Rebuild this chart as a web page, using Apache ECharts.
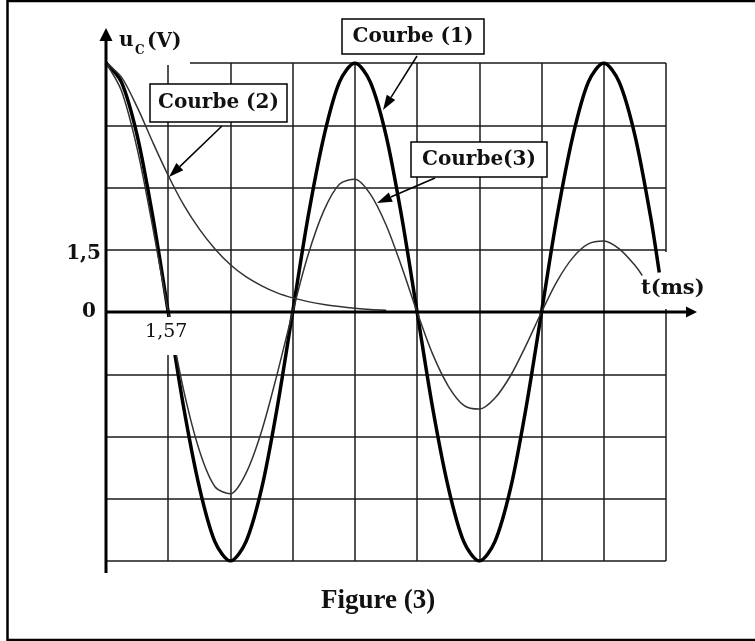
<!DOCTYPE html>
<html>
<head>
<meta charset="utf-8">
<script src="https://cdn.jsdelivr.net/npm/echarts@6/dist/echarts.min.js"></script>
<style>
html, body { margin: 0; padding: 0; background: #fff; }
#chart { width: 755px; height: 641px; }
</style>
</head>
<body>
<div id="chart"></div>
<script>
// time in ms, voltage in V
var t1 = [0, 0.39, 0.79, 1.18, 1.57, 1.96, 2.36, 2.75, 3.14, 3.53, 3.93, 4.32, 4.71, 5.10, 5.50, 5.89,
          6.28, 6.67, 7.07, 7.46, 7.85, 8.24, 8.64, 9.03, 9.42, 9.81, 10.21, 10.60, 10.99, 11.38, 11.78, 12.17,
          12.56, 12.95, 13.35, 13.74, 13.96];
var u1 = [6, 5.54, 4.24, 2.30, 0, -2.30, -4.24, -5.54, -6, -5.54, -4.24, -2.30, 0, 2.30, 4.24, 5.54,
          6, 5.54, 4.24, 2.30, 0, -2.30, -4.24, -5.54, -6, -5.54, -4.24, -2.30, 0, 2.30, 4.24, 5.54,
          6, 5.54, 4.24, 2.30, 0.95];

var t2 = [0, 0.39, 0.79, 1.18, 1.57, 1.96, 2.36, 2.75, 3.14, 3.53, 3.93, 4.32, 4.71, 5.10, 5.50, 5.89,
          6.28, 6.67, 7.07];
var u2 = [6, 5.66, 4.93, 4.09, 3.29, 2.58, 1.99, 1.52, 1.14, 0.85, 0.63, 0.46, 0.34, 0.25, 0.18, 0.13,
          0.09, 0.06, 0.04];

var t3 = [0, 0.39, 0.79, 1.18, 1.57, 1.96, 2.36, 2.75, 3.14, 3.53, 3.93, 4.32, 4.71, 5.10, 5.50, 5.89,
          6.28, 6.67, 7.07, 7.46, 7.85, 8.24, 8.64, 9.03, 9.42, 9.81, 10.21, 10.60, 10.99, 11.38, 11.78, 12.17,
          12.56, 12.95, 13.35, 13.53];
var u3 = [6, 5.33, 3.92, 2.04, 0, -1.89, -3.35, -4.21, -4.38, -3.89, -2.86, -1.49, 0, 1.38, 2.45, 3.08,
          3.20, 2.84, 2.09, 1.09, 0, -1.01, -1.79, -2.25, -2.34, -2.08, -1.53, -0.80, 0, 0.74, 1.31, 1.64,
          1.71, 1.52, 1.12, 0.88];

var yTickValues = [0, 1.5];
var yTickTexts = ['0', '1,5'];
var xTickValues = [1.57];
var xTickTexts = ['1,57'];

function pairs(t, u) {
    return t.map(function (v, i) { return [v, u[i]]; });
}

var serif = 'DejaVu Serif';
var gridLine = { color: '#1a1a1a', width: 1.5 };

var chart = echarts.init(document.getElementById('chart'));
var option = {
    animation: false,
    backgroundColor: '#fff',
    grid: { left: 106, top: 63, right: 89, bottom: 80 },
    xAxis: {
        type: 'value',
        min: 0,
        max: 14.13,
        interval: 1.57,
        axisLine: { show: false },
        axisTick: { show: false },
        axisLabel: { show: false },
        splitLine: { show: true, lineStyle: gridLine }
    },
    yAxis: {
        type: 'value',
        min: -6,
        max: 6,
        interval: 1.5,
        axisLine: { show: false },
        axisTick: { show: false },
        axisLabel: {
            margin: 5,
            formatter: function (v) {
                var i = yTickValues.indexOf(v);
                if (i < 0) return '';
                return (v === 0 ? '{b|' : '{a|') + yTickTexts[i] + '}';
            },
            rich: {
                a: { fontFamily: serif, fontWeight: 'bold', fontSize: 20, color: '#111', padding: [8, 0, 0, 0] },
                b: { fontFamily: serif, fontWeight: 'bold', fontSize: 20, color: '#111', padding: [0, 5, 0, 0] }
            }
        },
        splitLine: { show: true, lineStyle: gridLine }
    },
    series: [{
        name: 'Courbe (1)',
        type: 'line',
        smooth: 0.3,
        showSymbol: false,
        lineStyle: { color: '#000', width: 3.5 },
        data: pairs(t1, u1)
    }, {
        name: 'Courbe (2)',
        type: 'line',
        smooth: 0.3,
        showSymbol: false,
        lineStyle: { color: '#333', width: 1.5 },
        data: pairs(t2, u2)
    }, {
        name: 'Courbe (3)',
        type: 'line',
        smooth: 0.3,
        showSymbol: false,
        lineStyle: { color: '#333', width: 1.5 },
        data: pairs(t3, u3)
    }]
};
chart.setOption(option);

function txt(x, y, text, font, align, z) {
    return {
        type: 'text', z: z || 10, x: x, y: y,
        style: {
            text: text, font: font, fill: '#111',
            align: align || 'left', textAlign: align || 'left',
            verticalAlign: 'middle', textVerticalAlign: 'middle'
        }
    };
}

function arrow(x1, y1, x2, y2, len, half, w) {
    var a = Math.atan2(y2 - y1, x2 - x1);
    var bx = x2 - len * Math.cos(a), by = y2 - len * Math.sin(a);
    var px = -Math.sin(a) * half, py = Math.cos(a) * half;
    return [
        { type: 'line', z: 10, shape: { x1: x1, y1: y1, x2: bx, y2: by }, style: { stroke: '#000', lineWidth: w } },
        { type: 'polygon', z: 10, shape: { points: [[x2, y2], [bx + px, by + py], [bx - px, by - py]] }, style: { fill: '#000' } }
    ];
}

function box(cx, cy, w, h, text) {
    return [
        { type: 'rect', z: 10, shape: { x: cx - w / 2, y: cy - h / 2, width: w, height: h },
          style: { fill: '#fff', stroke: '#000', lineWidth: 1.5 } },
        txt(cx, cy, text, 'bold 20px "DejaVu Serif"', 'center', 11)
    ];
}

var o = chart.convertToPixel({ gridIndex: 0 }, [0, 0]);
var p157 = chart.convertToPixel({ gridIndex: 0 }, [xTickValues[0], 0]);

var els = [];
// outer frame
els.push({ type: 'rect', z: 0, shape: { x: 7.5, y: 1, width: 760, height: 639 },
           style: { fill: 'none', stroke: '#000', lineWidth: 2.5 } });
// white masks under the curves
els.push({ type: 'rect', z: 1, shape: { x: 108, y: 22, width: 82, height: 43 }, style: { fill: '#fff' } });
els.push({ type: 'rect', z: 1, shape: { x: 634, y: 252, width: 82, height: 57 }, style: { fill: '#fff' } });
// axes with arrows
els = els.concat(arrow(o[0], 573, o[0], 28, 13, 6.5, 3));
els = els.concat(arrow(o[0], o[1], 697, o[1], 11, 5.5, 3));
// axis titles
els.push(txt(119, 41, 'u', 'bold 20px "DejaVu Serif"'));
els.push(txt(135, 51, 'C', 'bold 12px "DejaVu Serif"'));
els.push(txt(147, 42, '(V)', 'bold 20px "DejaVu Serif"'));
els.push(txt(641, 289, 't(ms)', 'bold 21px "DejaVu Serif"'));
// 1,57 tick label, on a white patch that cuts the curves
els.push({ type: 'rect', z: 10, shape: { x: p157[0] - 29, y: o[1] + 5, width: 56, height: 38 }, style: { fill: '#fff' } });
els.push(txt(p157[0] - 2, o[1] + 20, xTickTexts[0], '19px "DejaVu Serif"', 'center', 11));
// curve labels
els = els.concat(box(218.5, 103, 137, 38, 'Courbe (2)'));
els = els.concat(arrow(222, 126, 169, 177, 15, 5, 1.5));
els = els.concat(box(413, 36.5, 142, 35, 'Courbe (1)'));
els = els.concat(arrow(417, 56, 383, 110, 15, 5, 1.5));
els = els.concat(box(479, 159.5, 136, 35, 'Courbe(3)'));
els = els.concat(arrow(435, 178, 377, 203, 15, 5, 1.5));
// caption
els.push(txt(321, 601, 'Figure (3)', 'bold 27px "Liberation Serif"'));

chart.setOption({ graphic: { elements: els } });
</script>
</body>
</html>
